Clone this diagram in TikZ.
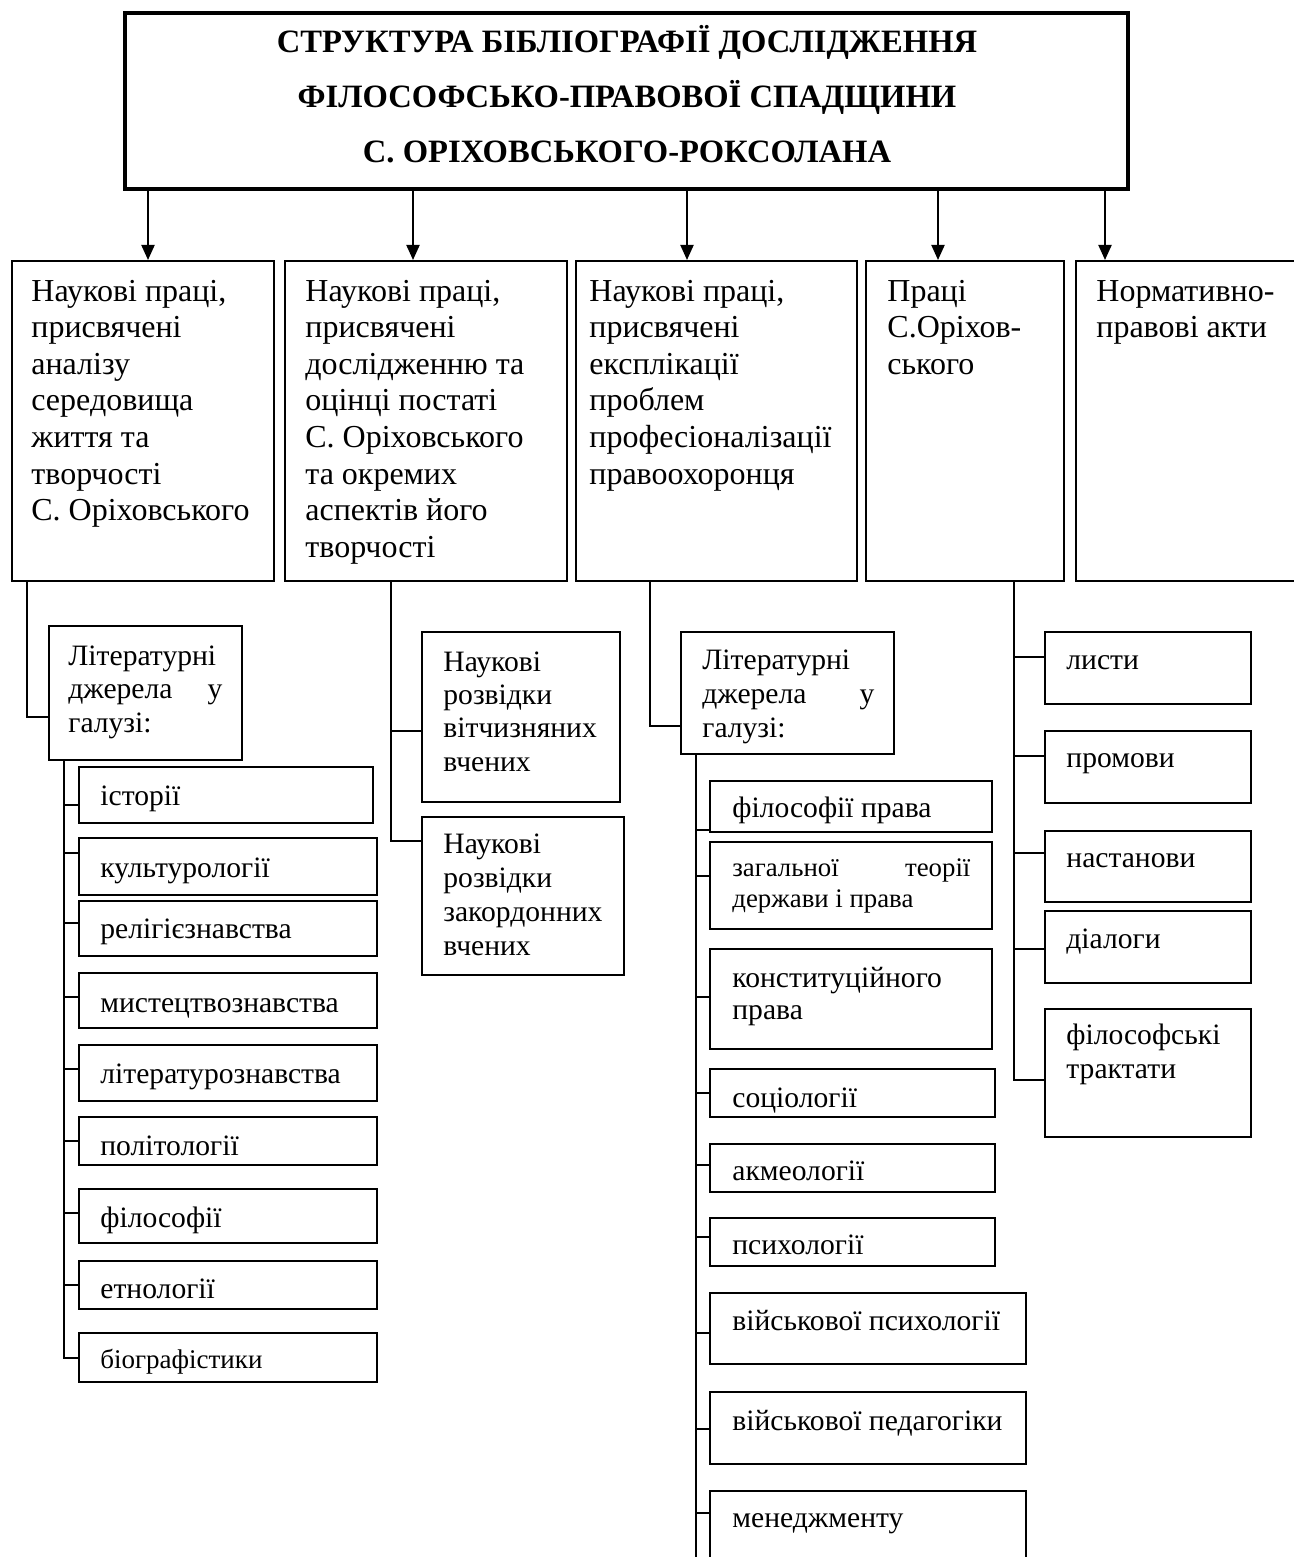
\documentclass[tikz,border=0pt]{standalone}
\usepackage{fontspec}
\setmainfont{Liberation Serif}
\usetikzlibrary{arrows.meta,fit,calc}
\newcommand{\mylines}[1]{\begin{tabular}[t]{@{}l@{}}#1\end{tabular}}
\newcommand{\mycenterlines}[1]{\begin{tabular}[t]{@{}c@{}}#1\end{tabular}}
\begin{document}
\begin{tikzpicture}[x=0.5pt,y=-0.5pt,
  box/.style={draw, line width=1pt, inner sep=0pt, rectangle},
  tbox/.style={draw, line width=2.2pt, inner sep=0pt, rectangle},
  txt/.style={anchor=base west, inner sep=0pt, font=\fontsize{14.8}{17}\selectfont},
  bigtxt/.style={txt, font=\fontsize{16}{18.3}\selectfont},
  arr/.style={line width=1pt, -{Triangle[length=7.5pt,width=6.5pt]}},
  ln/.style={line width=1pt}
]
\useasboundingbox (0,0) rectangle (1294,1557);
\clip (0,0) rectangle (1294,1557);

% title
\node[tbox, fit={(125,13)(1128,189)}] (title) {};
\node[anchor=base, inner sep=0pt, font=\bfseries\fontsize{16.3}{27.5}\selectfont] (tt) at (627,53)
  {\mycenterlines{СТРУКТУРА БІБЛІОГРАФІЇ ДОСЛІДЖЕННЯ\\ФІЛОСОФСЬКО-ПРАВОВОЇ СПАДЩИНИ\\С. ОРІХОВСЬКОГО-РОКСОЛАНА}};

% level 1 boxes
\node[box, fit={(12,261)(274,581)}] (b1) {};
\node[box, fit={(285,261)(567,581)}] (b2) {};
\node[box, fit={(576,261)(857,581)}] (b3) {};
\node[box, fit={(866,261)(1064,581)}] (b4) {};
\node[box, fit={(1076,261)(1300,581)}] (b5) {};
\node[bigtxt] (b1t) at (31,301) {\mylines{Наукові праці,\\присвячені\\аналізу\\середовища\\життя та\\творчості\\С. Оріховського}};
\node[bigtxt] (b2t) at (305,301) {\mylines{Наукові праці,\\присвячені\\дослідженню та\\оцінці постаті\\С. Оріховського\\та окремих\\аспектів його\\творчості}};
\node[bigtxt] (b3t) at (589,301) {\mylines{Наукові праці,\\присвячені\\експлікації\\проблем\\професіоналізації\\правоохоронця}};
\node[bigtxt] (b4t) at (887,301) {\mylines{Праці\\С.Оріхов-\\ського}};
\node[bigtxt] (b5t) at (1096,301) {\mylines{Нормативно-\\правові акти}};

% arrows
\coordinate (ax1) at (148,0);
\coordinate (ax2) at (413,0);
\coordinate (ax3) at (687,0);
\coordinate (ax4) at (938,0);
\coordinate (ax5) at (1105,0);
\draw[arr] (title.south -| ax1) -- (b1.north -| ax1);
\draw[arr] (title.south -| ax2) -- (b2.north -| ax2);
\draw[arr] (title.south -| ax3) -- (b3.north -| ax3);
\draw[arr] (title.south -| ax4) -- (b4.north -| ax4);
\draw[arr] (title.south -| ax5) -- (b5.north -| ax5);

% ---------- column 1 ----------
\node[box, fit={(49,626)(242,760)}] (lit1) {};
\node[txt, font=\fontsize{14.8}{16.9}\selectfont] (lit1t) at (68,665) {\mylines{Літературні\\\hbox to 77pt{джерела\hfill у}\\галузі:}};
\node[box, fit={(79,767)(373,823)}] (ist) {};
\node[box, fit={(79,838)(377,895)}] (kult) {};
\node[box, fit={(79,901)(377,956)}] (rel) {};
\node[box, fit={(79,973)(377,1028)}] (mist) {};
\node[box, fit={(79,1045)(377,1101)}] (litz) {};
\node[box, fit={(79,1117)(377,1165)}] (pol) {};
\node[box, fit={(79,1189)(377,1243)}] (fil) {};
\node[box, fit={(79,1261)(377,1309)}] (etn) {};
\node[box, fit={(79,1333)(377,1382)}] (bio) {};
\node[txt] (istt) at (100,805) {історії};
\node[txt] (kultt) at (100,877) {культурології};
\node[txt] (relt) at (100,938) {релігієзнавства};
\node[txt] (mistt) at (100,1012) {мистецтвознавства};
\node[txt] (litzt) at (100,1083) {літературознавства};
\node[txt] (polt) at (100,1155) {політології};
\node[txt] (filt) at (100,1227) {філософії};
\node[txt] (etnt) at (100,1298) {етнології};
\node[txt, font=\fontsize{13.5}{16}\selectfont] (biot) at (100,1368) {біографістики};
\coordinate (s1) at (27,0);
\coordinate (t1) at (64,0);
\draw[ln] (b1.south -| s1) |- ($(lit1.west)+(0,24)$);
\draw[ln] (lit1.south -| t1) |- (bio.west);
\draw[ln] ($(ist.west)+(0,10)$) -- +(-15,0);
\draw[ln] ($(kult.west)+(0,-13.5)$) -- +(-15,0);
\draw[ln] ($(rel.west)+(0,-5.5)$) -- +(-15,0);
\draw[ln] ($(mist.west)+(0,-3.5)$) -- +(-15,0);
\draw[ln] ($(litz.west)+(0,-4)$) -- +(-15,0);
\draw[ln] (pol.west) -- +(-15,0);
\draw[ln] ($(fil.west)+(0,-3)$) -- +(-15,0);
\draw[ln] (etn.west) -- +(-15,0);

% ---------- column 2 ----------
\node[box, fit={(422,632)(620,802)}] (vA) {};
\node[box, fit={(422,817)(624,975)}] (vB) {};
\node[txt, font=\fontsize{14.8}{16.7}\selectfont] (vAt) at (443,671) {\mylines{Наукові\\розвідки\\вітчизняних\\вчених}};
\node[txt, font=\fontsize{14.8}{17}\selectfont] (vBt) at (443,853) {\mylines{Наукові\\розвідки\\закордонних\\вчених}};
\coordinate (s2) at (391,0);
\draw[ln] (b2.south -| s2) |- ($(vB.west)+(0,-55)$);
\draw[ln] ($(vA.west)+(0,14)$) -- +(-31,0);

% ---------- column 3 ----------
\node[box, fit={(681,632)(894,754)}] (lit3) {};
\node[txt, font=\fontsize{14.8}{17}\selectfont] (lit3t) at (702,669) {\mylines{Літературні\\\hbox to 86pt{джерела\hfill у}\\галузі:}};
\node[box, fit={(710,781)(992,832)}] (fp) {};
\node[box, fit={(710,842)(992,929)}] (ztdp) {};
\node[box, fit={(710,949)(992,1049)}] (kp) {};
\node[box, fit={(710,1069)(995,1117)}] (soc) {};
\node[box, fit={(710,1144)(995,1192)}] (akm) {};
\node[box, fit={(710,1218)(995,1266)}] (psy) {};
\node[box, fit={(710,1293)(1026,1364)}] (vpsy) {};
\node[box, fit={(710,1392)(1026,1464)}] (vped) {};
\node[box, fit={(710,1491)(1026,1620)}] (men) {};
\node[txt] (fpt) at (732,817) {філософії права};
\node[txt, font=\fontsize{13.4}{15.5}\selectfont] (ztdpt) at (732,876) {\mylines{\hbox to 119pt{загальної\hfill теорії}\\держави і права}};
\node[txt, font=\fontsize{14.8}{16}\selectfont] (kpt) at (732,987) {\mylines{конституційного\\права}};
\node[txt] (soct) at (732,1107) {соціології};
\node[txt] (akmt) at (732,1180) {акмеології};
\node[txt] (psyt) at (732,1254) {психології};
\node[txt] (vpsyt) at (732,1330) {військової психології};
\node[txt] (vpedt) at (732,1430) {військової педагогіки};
\node[txt] (ment) at (732,1527) {менеджменту};
\coordinate (s3) at (650,0);
\coordinate (t3end) at (696,1600);
\draw[ln] (b3.south -| s3) |- ($(lit3.west)+(0,33)$);
\draw[ln] (lit3.south -| t3end) -- (t3end);
\draw[ln] ($(fp.west)+(0,23.5)$) -- +(-14,0);
\draw[ln] ($(ztdp.west)+(0,-9.5)$) -- +(-14,0);
\draw[ln] ($(kp.west)+(0,-2)$) -- +(-14,0);
\draw[ln] (soc.west) -- +(-14,0);
\draw[ln] ($(akm.west)+(0,-3)$) -- +(-14,0);
\draw[ln] ($(psy.west)+(0,-5)$) -- +(-14,0);
\draw[ln] ($(vpsy.west)+(0,4.5)$) -- +(-14,0);
\draw[ln] ($(vped.west)+(0,1)$) -- +(-14,0);
\draw[ln] ($(men.west)+(0,-42.5)$) -- +(-14,0);

% ---------- column 4 ----------
\node[box, fit={(1045,632)(1251,704)}] (lys) {};
\node[box, fit={(1045,731)(1251,803)}] (prom) {};
\node[box, fit={(1045,831)(1251,902)}] (nast) {};
\node[box, fit={(1045,911)(1251,983)}] (dial) {};
\node[box, fit={(1045,1009)(1251,1137)}] (ftr) {};
\node[txt] (lyst) at (1066,669) {листи};
\node[txt] (promt) at (1066,767) {промови};
\node[txt] (nastt) at (1066,867) {настанови};
\node[txt] (dialt) at (1066,948) {діалоги};
\node[txt, font=\fontsize{14.8}{17}\selectfont] (ftrt) at (1066,1044) {\mylines{філософські\\трактати}};
\coordinate (s4) at (1014,0);
\draw[ln] (b4.south -| s4) |- ($(ftr.west)+(0,7)$);
\draw[ln] ($(lys.west)+(0,-11)$) -- +(-31,0);
\draw[ln] ($(prom.west)+(0,-11)$) -- +(-31,0);
\draw[ln] ($(nast.west)+(0,-13.5)$) -- +(-31,0);
\draw[ln] ($(dial.west)+(0,2)$) -- +(-31,0);
\end{tikzpicture}
\end{document}
